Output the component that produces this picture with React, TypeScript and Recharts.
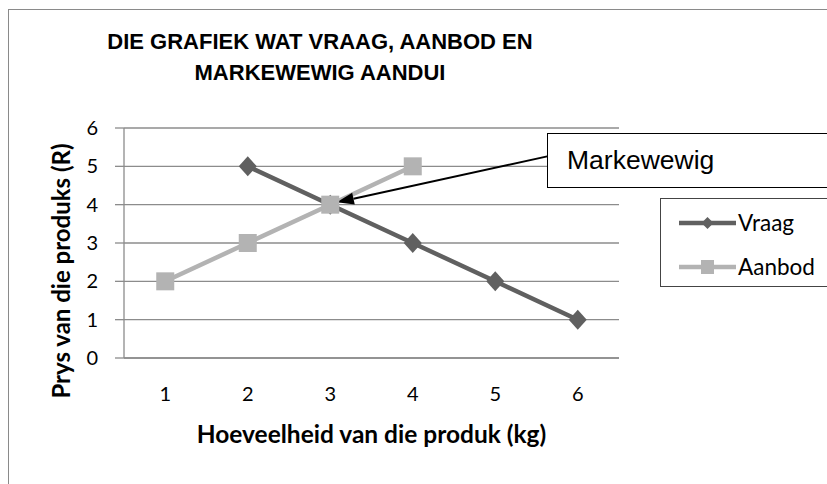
import React from "react";
import {
  LineChart,
  Line,
  XAxis,
  YAxis,
  CartesianGrid,
  Legend,
  ReferenceLine,
  Label,
} from "recharts";

// hoeveelheid (kg) on the x axis
const quantities = [1, 2, 3, 4, 5, 6];
// prys (R) per series, null where the series has no point
const vraag = [null, 5, 4, 3, 2, 1];
const aanbod = [2, 3, 4, 5, null, null];
const priceTicks = [0, 1, 2, 3, 4, 5, 6];

// callout arrow: tip near the equilibrium point, tail at the label box
const arrowTip = { x: 3.08, y: 4.06 };
const arrowTail = { x: 5.63, y: 5.26 };

const data = quantities.map((q, i) => ({ q, vraag: vraag[i], aanbod: aanbod[i] }));

const VRAAG = "#606060";
const AANBOD = "#b3b3b3";
const GRID = "#8c8c8c";
const CALIBRI = "Lato, 'Open Sans', sans-serif";
const ARIAL = "'Liberation Sans', Arial, sans-serif";

const Diamond = (props: any) => {
  const { cx, cy, value, index } = props;
  if (value == null || cx == null || cy == null) return <g key={`vd${index}`} />;
  return (
    <polygon
      key={`vd${index}`}
      points={`${cx},${cy - 10} ${cx + 9},${cy} ${cx},${cy + 10} ${cx - 9},${cy}`}
      fill={VRAAG}
    />
  );
};

const Square = (props: any) => {
  const { cx, cy, value, index } = props;
  if (value == null || cx == null || cy == null) return <g key={`as${index}`} />;
  return <rect key={`as${index}`} x={cx - 9} y={cy - 9} width={18} height={18} fill={AANBOD} />;
};

const ArrowShape = (props: any) => {
  let { x1, y1, x2, y2 } = props;
  if (x1 == null || x2 == null) return null;
  // make (x1, y1) the tip (left end)
  if (x1 > x2) {
    [x1, x2] = [x2, x1];
    [y1, y2] = [y2, y1];
  }
  const ang = Math.atan2(y1 - y2, x1 - x2);
  const len = 17;
  const half = 6;
  const bx = x1 - len * Math.cos(ang);
  const by = y1 - len * Math.sin(ang);
  const px = -Math.sin(ang) * half;
  const py = Math.cos(ang) * half;
  return (
    <g>
      <line x1={bx} y1={by} x2={x2} y2={y2} stroke="#000" strokeWidth={2} />
      <polygon points={`${x1},${y1} ${bx + px},${by + py} ${bx - px},${by - py}`} fill="#000" />
    </g>
  );
};

const LegendBox = () => {
  const row = (top: number, label: string, color: string, marker: "diamond" | "square") => (
    <div style={{ position: "absolute", left: 0, top: top - 12, height: 24, display: "flex", alignItems: "center" }}>
      <svg width={77} height={24} style={{ display: "block" }}>
        <line x1={18} y1={12} x2={75} y2={12} stroke={color} strokeWidth={4.5} />
        {marker === "diamond" ? (
          <polygon points="46.5,6 52.5,12 46.5,18 40.5,12" fill={color} />
        ) : (
          <rect x={40} y={5} width={13} height={14} fill={color} />
        )}
      </svg>
      <span style={{ fontFamily: CALIBRI, fontSize: 22.5, color: "#000", lineHeight: "24px" }}>{label}</span>
    </div>
  );
  return (
    <div
      style={{
        position: "relative",
        width: 200,
        height: 89,
        border: "1px solid #444",
        boxSizing: "border-box",
        background: "#fff",
      }}
    >
      {row(24, "Vraag", VRAAG, "diamond")}
      {row(68, "Aanbod", AANBOD, "square")}
    </div>
  );
};

export default function App() {
  return (
    <div
      style={{
        position: "absolute",
        left: 0,
        top: 0,
        width: 827,
        height: 484,
        overflow: "hidden",
        background: "#fff",
      }}
    >
      {/* chart frame, runs off the right and bottom edge */}
      <div
        style={{
          position: "absolute",
          left: 8,
          top: 9,
          width: 900,
          height: 600,
          border: "1px solid #8a8a8a",
        }}
      />

      <div
        style={{
          position: "absolute",
          left: 70,
          top: 26,
          width: 500,
          textAlign: "center",
          fontFamily: ARIAL,
          fontWeight: 700,
          fontSize: 22,
          lineHeight: "31px",
          color: "#000",
        }}
      >
        DIE GRAFIEK WAT VRAAG, AANBOD EN
        <br />
        MARKEWEWIG AANDUI
      </div>

      <div style={{ position: "absolute", left: 0, top: 0 }}>
        <LineChart
          width={827}
          height={484}
          data={data}
          margin={{ top: 128, right: 208, left: 64, bottom: 96 }}
          style={{ fontFamily: CALIBRI }}
        >
          <CartesianGrid vertical={false} stroke={GRID} strokeWidth={1.3} />
          <XAxis
            dataKey="q"
            type="number"
            domain={[0.5, 6.5]}
            ticks={quantities}
            height={30}
            axisLine={{ stroke: GRID, strokeWidth: 1.3 }}
            tickLine={false}
            tickSize={10}
            tickMargin={19}
            tick={{ fill: "#000", fontSize: 20, fontFamily: CALIBRI }}
          >
            <Label
              content={(p: any) => {
                const vb = p.viewBox || { x: 124, y: 358, width: 495 };
                return (
                  <text
                    x={vb.x + vb.width / 2}
                    y={443}
                    textAnchor="middle"
                    fontFamily={CALIBRI}
                    fontWeight={700}
                    fontSize={24.5}
                    fill="#000"
                  >
                    Hoeveelheid van die produk (kg)
                  </text>
                );
              }}
            />
          </XAxis>
          <YAxis
            type="number"
            domain={[0, 6]}
            ticks={priceTicks}
            width={60}
            axisLine={{ stroke: GRID, strokeWidth: 1.3 }}
            tickLine={{ stroke: GRID, strokeWidth: 1.3 }}
            tickSize={9}
            tickMargin={17}
            tick={{ fill: "#000", fontSize: 20, fontFamily: CALIBRI }}
          >
            <Label
              content={() => (
                <text
                  x={60}
                  y={271}
                  transform="rotate(-90 60 271)"
                  textAnchor="middle"
                  dominantBaseline="central"
                  fontFamily={CALIBRI}
                  fontWeight={700}
                  fontSize={24}
                  fill="#000"
                >
                  Prys van die produks (R)
                </text>
              )}
            />
          </YAxis>
          <Legend
            layout="horizontal"
            verticalAlign="middle"
            align="center"
            wrapperStyle={{ left: 660, top: 198, width: 200, height: 89 }}
            content={() => <LegendBox />}
          />
          <Line
            dataKey="vraag"
            name="Vraag"
            stroke={VRAAG}
            strokeWidth={4.5}
            dot={Diamond}
            activeDot={false}
            isAnimationActive={false}
          />
          <Line
            dataKey="aanbod"
            name="Aanbod"
            stroke={AANBOD}
            strokeWidth={4.5}
            dot={Square}
            activeDot={false}
            isAnimationActive={false}
          />
          <ReferenceLine segment={[arrowTip, arrowTail]} shape={ArrowShape} />
        </LineChart>
      </div>

      {/* callout label box */}
      <div
        style={{
          position: "absolute",
          left: 547,
          top: 133,
          width: 320,
          height: 55,
          border: "1.5px solid #000",
          boxSizing: "border-box",
          background: "#fff",
          display: "flex",
          alignItems: "center",
          paddingLeft: 19,
          fontFamily: ARIAL,
          fontSize: 26.5,
          color: "#000",
        }}
      >
        Markewewig
      </div>
    </div>
  );
}
